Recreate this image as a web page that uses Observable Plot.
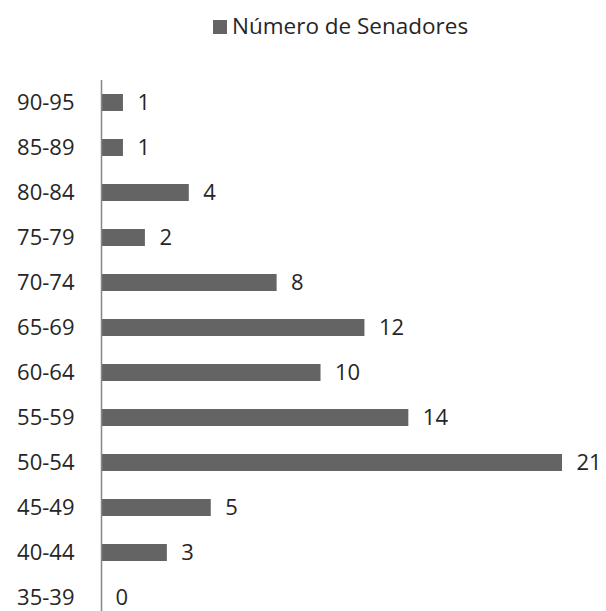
<!DOCTYPE html>
<html>
<head>
<meta charset="utf-8">
<script src="https://cdn.jsdelivr.net/npm/d3@7"></script>
<script src="https://cdn.jsdelivr.net/npm/@observablehq/plot@0.6"></script>
<style>
  html, body { margin: 0; padding: 0; background: #fff; }
  #wrap { width: 606px; }
  #legend { position: relative; width: 606px; height: 70px; font-family: "Open Sans", sans-serif; font-size: 22.5px; color: #262626; }
  #legend .sw { position: absolute; left: 213px; top: 20px; width: 14px; height: 14px; background: #646464; }
  #legend .lb { position: absolute; left: 232px; top: 11px; line-height: 30px; white-space: nowrap; }
</style>
</head>
<body>
<div id="wrap">
  <div id="legend"><span class="sw"></span><span class="lb">Número de Senadores</span></div>
  <div id="chart"></div>
</div>
<script>
const categories = ["90-95","85-89","80-84","75-79","70-74","65-69","60-64","55-59","50-54","45-49","40-44","35-39"];
const values = [1, 1, 4, 2, 8, 12, 10, 14, 21, 5, 3, 0];
const seriesName = "Número de Senadores";

const data = categories.map((c, i) => ({age: c, n: values[i]}));

const chart = Plot.plot({
  width: 606,
  height: 541,
  marginTop: 10,
  marginBottom: 0,
  marginLeft: 101,
  marginRight: 44,
  style: {fontFamily: "Open Sans, sans-serif", fontSize: "22px", color: "#262626", background: "#fff"},
  x: {domain: [0, 21], range: [101, 562], axis: null},
  y: {domain: categories, range: [9.4, 551.6], paddingInner: 0.62, paddingOuter: 0.31, label: null, tickSize: 0, tickPadding: 27},
  marks: [
    Plot.barX(data, {x: "n", y: "age", fill: "#646464"}),
    Plot.ruleX([0], {stroke: "#868686", strokeWidth: 1.5}),
    Plot.text(data, {x: "n", y: "age", text: d => String(d.n), textAnchor: "start", dx: 14, fill: "#262626", fontSize: 22}),
    Plot.axisY({tickSize: 0, tickPadding: 27, fontSize: 22, fill: "#262626"})
  ]
});
document.getElementById("chart").appendChild(chart);
</script>
</body>
</html>
